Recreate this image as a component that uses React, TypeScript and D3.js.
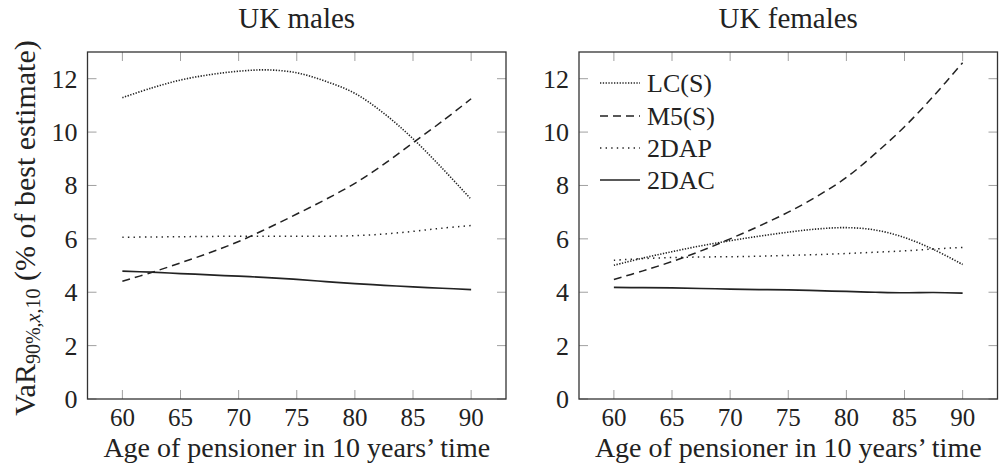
import React, { useEffect, useRef } from 'react';
import * as d3 from 'd3';

// ages on the x axis (every 2.5 years)
const ages = [60, 62.5, 65, 67.5, 70, 72.5, 75, 77.5, 80, 82.5, 85, 87.5, 90];

// UK males
const malesLC = [11.29, 11.65, 11.95, 12.15, 12.28, 12.33, 12.22, 11.9, 11.45, 10.7, 9.75, 8.65, 7.48];
const malesM5 = [4.41, 4.74, 5.1, 5.48, 5.9, 6.4, 6.93, 7.48, 8.08, 8.8, 9.6, 10.4, 11.25];
const males2DAP = [6.06, 6.07, 6.08, 6.09, 6.1, 6.1, 6.1, 6.1, 6.12, 6.18, 6.28, 6.4, 6.5];
const males2DAC = [4.79, 4.75, 4.7, 4.65, 4.6, 4.55, 4.48, 4.4, 4.32, 4.26, 4.2, 4.15, 4.1];

// UK females
const femalesLC = [5.01, 5.28, 5.52, 5.74, 5.93, 6.1, 6.25, 6.37, 6.42, 6.33, 6.05, 5.6, 5.04];
const femalesM5 = [4.48, 4.8, 5.15, 5.55, 6.0, 6.48, 7.0, 7.6, 8.3, 9.2, 10.2, 11.35, 12.6];
const females2DAP = [5.2, 5.26, 5.3, 5.32, 5.33, 5.35, 5.38, 5.41, 5.45, 5.5, 5.55, 5.62, 5.68];
const females2DAC = [4.18, 4.17, 4.16, 4.14, 4.12, 4.1, 4.09, 4.06, 4.03, 4.0, 3.98, 3.99, 3.97];

const seriesNames = ['LC(S)', 'M5(S)', '2DAP', '2DAC'];
const xTicks = [60, 65, 70, 75, 80, 85, 90];
const yTicks = [0, 2, 4, 6, 8, 10, 12];
const panelTitles = ['UK males', 'UK females'];

const FONT = "'Liberation Serif', serif";
const INK = '#222';
const FS = 25;

// dash style per series
const dashes = ['1.3 1.5', '8 5', '1.4 4.2', null];
const widths = [1.6, 1.5, 1.5, 1.7];

const App = () => {
  const ref = useRef<SVGSVGElement | null>(null);

  useEffect(() => {
    const svg = d3.select(ref.current);
    svg.selectAll('*').remove();

    const top = 52;
    const bottom = 399;
    const panelW = 418.5;
    const lefts = [87.5, 579];

    // 12 sits at 78.7
    const y = d3.scaleLinear()
      .domain([0, 12 * (bottom - top) / (bottom - 78.7)])
      .range([bottom, top]);

    const panels = [
      [malesLC, malesM5, males2DAP, males2DAC],
      [femalesLC, femalesM5, females2DAP, females2DAC],
    ];

    const txt = (sel: any) =>
      sel.attr('font-family', FONT).attr('font-size', FS).attr('fill', INK);

    panels.forEach((series, p) => {
      const left = lefts[p];
      const x = d3.scaleLinear().domain([57, 93]).range([left, left + panelW]);
      const g = svg.append('g');

      // ticks on all four sides, pointing in, grey
      const tickLen = 9;
      xTicks.forEach((t) => {
        g.append('line').attr('x1', x(t)).attr('x2', x(t)).attr('y1', bottom).attr('y2', bottom - tickLen)
          .attr('stroke', '#a0a0a0').attr('stroke-width', 1);
        g.append('line').attr('x1', x(t)).attr('x2', x(t)).attr('y1', top).attr('y2', top + tickLen)
          .attr('stroke', '#a0a0a0').attr('stroke-width', 1);
        txt(g.append('text').attr('x', x(t)).attr('y', 426).attr('text-anchor', 'middle')).text(t);
      });
      yTicks.forEach((t) => {
        g.append('line').attr('x1', left).attr('x2', left + tickLen).attr('y1', y(t)).attr('y2', y(t))
          .attr('stroke', '#a0a0a0').attr('stroke-width', 1);
        g.append('line').attr('x1', left + panelW).attr('x2', left + panelW - tickLen).attr('y1', y(t)).attr('y2', y(t))
          .attr('stroke', '#a0a0a0').attr('stroke-width', 1);
        txt(g.append('text').attr('x', left - 10).attr('y', y(t) + 9)
          .attr('font-size', 26).attr('text-anchor', 'end')).attr('font-size', 26).text(t);
      });

      const line = d3.line<number>()
        .x((_, i) => x(ages[i]))
        .y((d) => y(d))
        .curve(d3.curveCatmullRom);

      series.forEach((vals, s) => {
        g.append('path')
          .attr('d', line(vals))
          .attr('fill', 'none')
          .attr('stroke', INK)
          .attr('stroke-width', widths[s])
          .attr('stroke-dasharray', dashes[s])
          .attr('stroke-linejoin', 'round');
      });

      // frame
      g.append('rect').attr('x', left).attr('y', top).attr('width', panelW).attr('height', bottom - top)
        .attr('fill', 'none').attr('stroke', '#333').attr('stroke-width', 1.3);

      txt(g.append('text').attr('x', left + panelW / 2).attr('y', 28).attr('text-anchor', 'middle'))
        .attr('font-size', 29)
        .text(panelTitles[p]);
      txt(g.append('text').attr('x', left + panelW / 2).attr('y', 457).attr('text-anchor', 'middle'))
        .attr('font-size', 28)
        .text('Age of pensioner in 10 years\u2019 time');
    });

    // legend in the female panel
    const leg = svg.append('g');
    const rowsY = [83, 116, 148, 180];
    seriesNames.forEach((name, s) => {
      leg.append('line').attr('x1', 600).attr('x2', 640).attr('y1', rowsY[s]).attr('y2', rowsY[s])
        .attr('stroke', INK).attr('stroke-width', widths[s]).attr('stroke-dasharray', dashes[s]);
      txt(leg.append('text').attr('x', 647).attr('y', rowsY[s] + 9)).attr('font-size', 26).text(name);
    });

    // y axis label
    const yl = txt(svg.append('text')
      .attr('transform', 'translate(35, 228) rotate(-90)')
      .attr('text-anchor', 'middle'))
      .attr('font-size', 30);
    yl.append('tspan').text('VaR');
    yl.append('tspan').attr('font-size', 20).attr('dy', 5).text('90%,');
    yl.append('tspan').attr('font-size', 20).attr('font-style', 'italic').text('x');
    yl.append('tspan').attr('font-size', 20).text(',10');
    yl.append('tspan').attr('dy', -5).text(' (% of best estimate)');
  }, []);

  return (
    <svg
      ref={ref}
      width={1004}
      height={472}
      style={{ position: 'absolute', left: 0, top: 0, background: '#fff' }}
    />
  );
};

export default App;
